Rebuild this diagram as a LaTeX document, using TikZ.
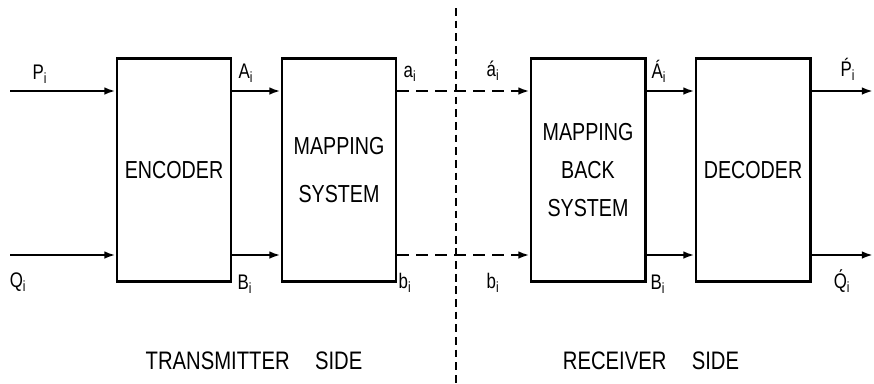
\documentclass[tikz,border=0pt]{standalone}
\usepackage{fontspec}
\setmainfont[FakeStretch=0.8]{Liberation Sans}
\usetikzlibrary{arrows.meta,positioning}

\begin{document}
\begin{tikzpicture}[x=0.025cm, y=-0.025cm, node distance=1.2cm,
    every node/.style={align=center},
    block/.style={draw, line width=2.1pt, minimum width=2.85cm, minimum height=5.55cm,
      inner sep=0pt, font=\fontsize{17.5}{20}\selectfont},
    sig/.style={line width=1.9pt, -{Latex[length=8pt,width=5.5pt]}},
    link/.style={dash pattern=on 8.5pt off 5pt},
    divider/.style={line width=1.2pt, dash pattern=on 5.5pt off 3.5pt},
    lbl/.style={font=\fontsize{15}{17}\selectfont, inner sep=1pt},
    side/.style={font=\fontsize{18}{20}\selectfont}]
  \useasboundingbox (0,0) rectangle (874,383);

  % boxes
  \node[block] (enc) at (174,170) {ENCODER};
  \node[block, right=of enc] (map) {MAPPING\\[14pt]SYSTEM};
  \node[block, right=3.3cm of map] (back) {MAPPING\\[7pt]BACK\\[7pt]SYSTEM};
  \node[block, right=of back] (dec) {DECODER};

  % free ends
  \coordinate (pin) at (10,91);
  \coordinate (qin) at (10,255);
  \coordinate (pout) at (873,91);
  \coordinate (qout) at (873,255);
  \coordinate (divtop) at (456,8);
  \coordinate (divbot) at (456,383);

  % connectors
  \draw[sig] (pin) -- (pin -| enc.west);
  \draw[sig] (qin) -- (qin -| enc.west);
  \draw[sig] (enc.east |- pin) -- (map.west |- pin);
  \draw[sig] (enc.east |- qin) -- (map.west |- qin);
  \draw[sig, link] (map.east |- pin) -- (back.west |- pin);
  \draw[sig, link] (map.east |- qin) -- (back.west |- qin);
  \draw[sig] (back.east |- pin) -- (dec.west |- pin);
  \draw[sig] (back.east |- qin) -- (dec.west |- qin);
  \draw[sig] (dec.east |- pin) -- (pout);
  \draw[sig] (dec.east |- qin) -- (qout);
  \draw[divider] (divtop) -- (divbot);

  % signal labels
  \node[lbl] (Pi) at (40,74) {P\textsubscript{i}};
  \node[lbl] (Qi) at (18,282) {Q\textsubscript{i}};
  \node[lbl] (Ai) at (246,73) {A\textsubscript{i}};
  \node[lbl] (Bi) at (245,284) {B\textsubscript{i}};
  \node[lbl] (ai) at (410,74) {a\textsubscript{i}};
  \node[lbl] (bi) at (405,283) {b\textsubscript{i}};
  \node[lbl] (ari) at (493,71) {á\textsubscript{i}};
  \node[lbl] (bri) at (493,283) {b\textsubscript{i}};
  \node[lbl] (Ari) at (659,71) {Á\textsubscript{i}};
  \node[lbl] (Bri) at (658,284) {B\textsubscript{i}};
  \node[lbl] (Pri) at (848,69) {\'{P}\textsubscript{i}};
  \node[lbl] (Qri) at (842,281) {\'{Q}\textsubscript{i}};

  % sides
  \node[side] (tx) at (254,361) {TRANSMITTER\quad SIDE};
  \node[side] (rx) at (651,361) {RECEIVER\quad SIDE};
\end{tikzpicture}
\end{document}
